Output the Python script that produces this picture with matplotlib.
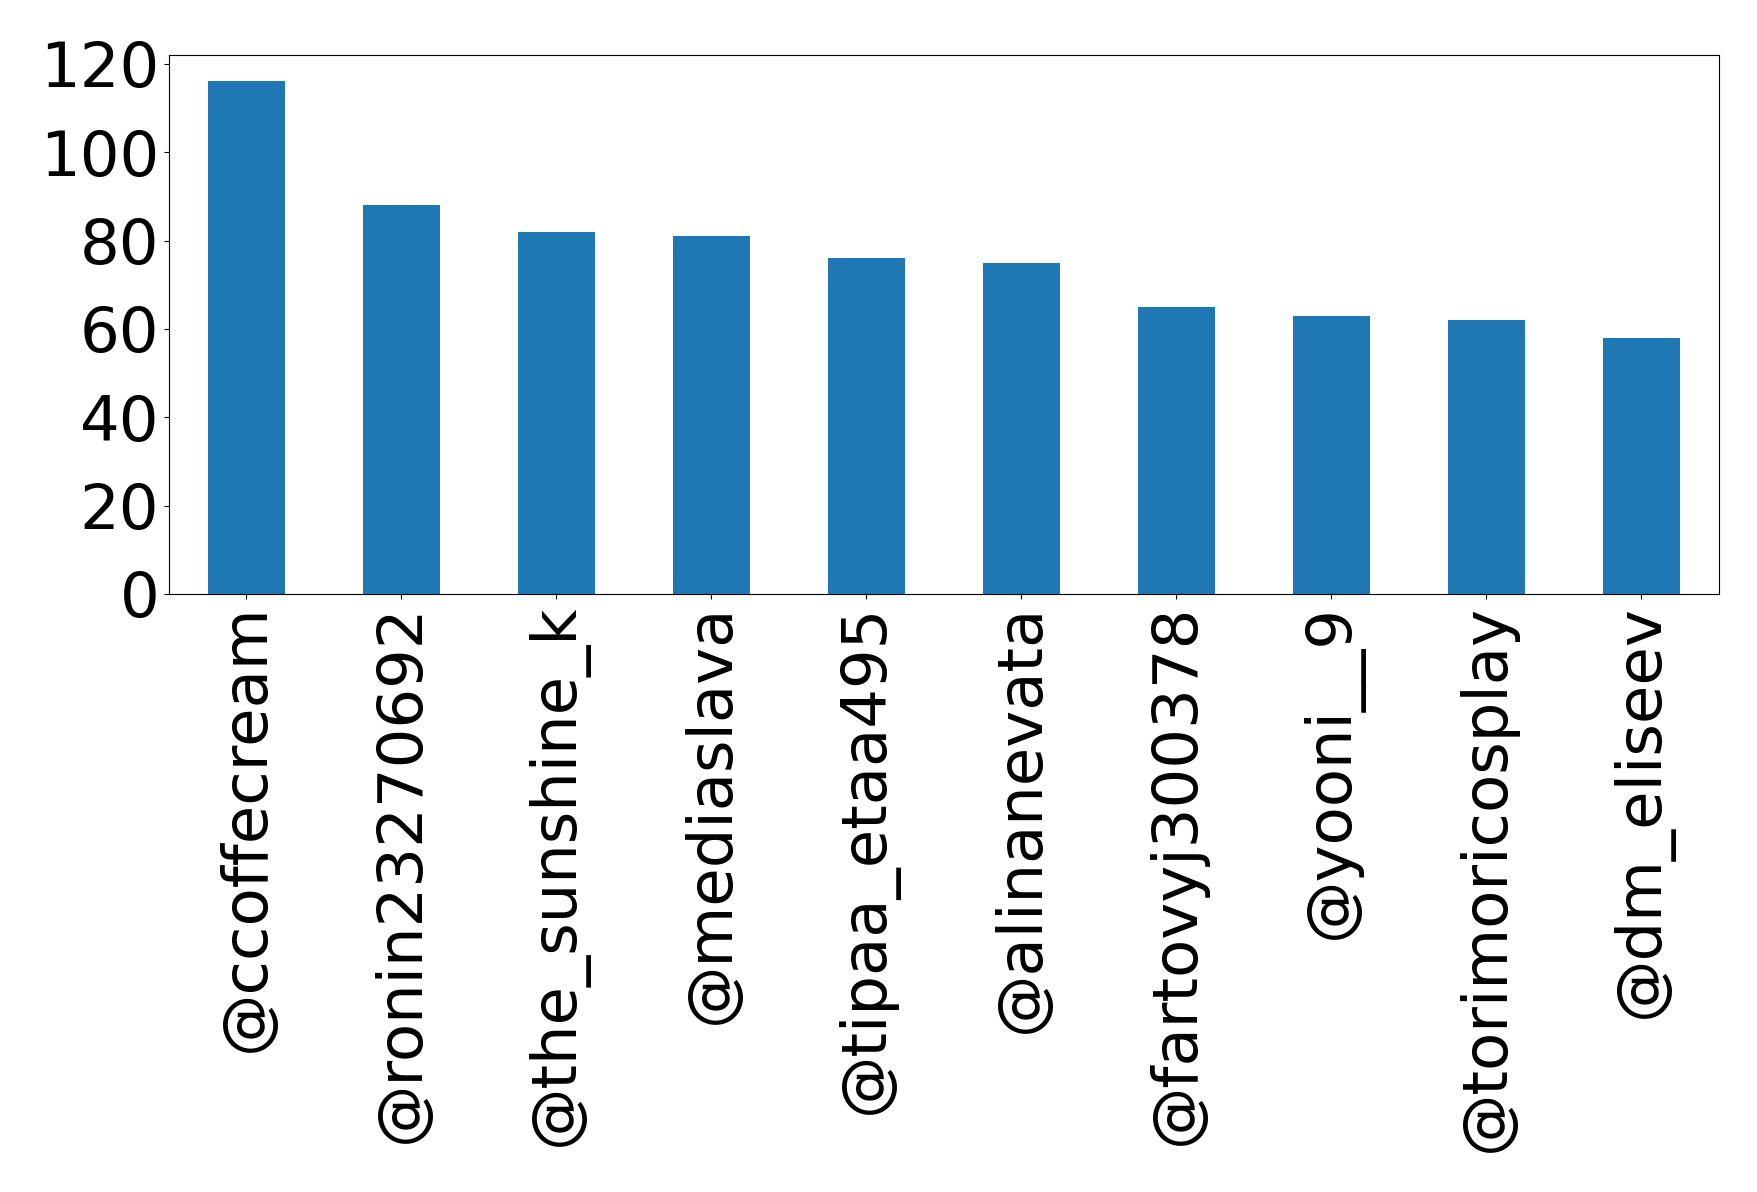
import matplotlib.pyplot as plt

users = [
    "@ccoffecream",
    "@ronin23270692",
    "@the_sunshine_k",
    "@mediaslava",
    "@tipaa_etaa495",
    "@alinanevata",
    "@fartovyj300378",
    "@yooni__9",
    "@torimoricosplay",
    "@dm_eliseev",
]
counts = [116, 88, 82, 81, 76, 75, 65, 63, 62, 58]


def main() -> None:
    fig = plt.figure(figsize=(17.58, 11.92), dpi=100)
    ax = fig.add_axes([0.0961, 0.5017, 0.8817, 0.4522])
    positions = range(len(users))
    ax.bar(positions, counts, width=0.5, color="#1f77b4")
    ax.set_xlim(-0.5, len(users) - 0.5)
    ax.set_ylim(0, 122)
    ax.set_yticks([0, 20, 40, 60, 80, 100, 120])
    ax.set_xticks(list(positions))
    ax.set_xticklabels(users, rotation=90)
    ax.tick_params(axis="both", labelsize=45)
    fig.savefig("out.png", dpi=100)
    plt.close(fig)


if __name__ == "__main__":
    main()
